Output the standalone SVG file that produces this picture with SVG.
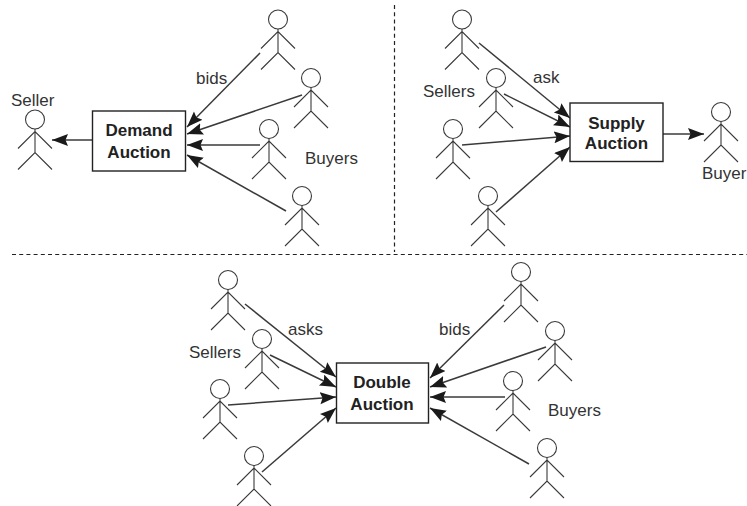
<svg xmlns="http://www.w3.org/2000/svg" xmlns:xlink="http://www.w3.org/1999/xlink" width="747" height="506" viewBox="0 0 747 506">
<style>
text{font-family:"Liberation Sans",Arial,sans-serif;font-size:17px;fill:#333}
.b{font-weight:bold;text-anchor:middle;fill:#222}
.box{fill:#fff;stroke:#222;stroke-width:1.4}
.fig{fill:none;stroke:#3a3a3a;stroke-width:1.1}
.c line{stroke:#3a3a3a;stroke-width:1.5;marker-end:url(#a)}
.d{stroke:#222;stroke-width:1.2;stroke-dasharray:4 3.2;fill:none}
</style>
<defs>
<marker id="a" markerUnits="userSpaceOnUse" markerWidth="18" markerHeight="14" refX="16" refY="6" orient="auto"><path d="M0 0L16 6L0 12L2.5 6Z" fill="#1a1a1a"/></marker>
<g id="p" class="fig"><circle cx="0" cy="0" r="9.5"/><path d="M0 9.5V33M-17 29L0 12L17 29M-17 50L0 33L17 50"/></g>
</defs>
<rect width="747" height="506" fill="#fff"/>
<g id="dividers"><path class="d" d="M394.5 5V252"/><path class="d" d="M12 254.5H747"/></g>
<g id="connectors" class="c">
<line x1="92" y1="140" x2="52" y2="140"/>
<line x1="260" y1="53" x2="187" y2="127"/>
<line x1="302" y1="95" x2="187" y2="134"/>
<line x1="260" y1="145" x2="187" y2="145"/>
<line x1="286" y1="211" x2="187" y2="155"/>
<line x1="479" y1="43" x2="570" y2="118"/>
<line x1="504" y1="94" x2="570" y2="127"/>
<line x1="462" y1="145" x2="570" y2="136"/>
<line x1="496" y1="212" x2="570" y2="147"/>
<line x1="663" y1="134" x2="704" y2="134"/>
<line x1="245" y1="304" x2="336" y2="377"/>
<line x1="270" y1="355" x2="336" y2="387"/>
<line x1="228" y1="405" x2="336" y2="397"/>
<line x1="262" y1="472" x2="336" y2="408"/>
<line x1="504" y1="305" x2="430" y2="378"/>
<line x1="546" y1="347" x2="430" y2="387"/>
<line x1="505" y1="397" x2="430" y2="397"/>
<line x1="529" y1="464" x2="430" y2="408"/>
</g>
<g id="demand-auction"><rect class="box" x="92.5" y="111" width="93" height="60"/><text class="b" x="139" y="136">Demand</text><text class="b" x="139" y="158">Auction</text></g>
<g id="supply-auction"><rect class="box" x="570" y="103" width="93" height="58.5"/><text class="b" x="616.5" y="129">Supply</text><text class="b" x="616.5" y="149">Auction</text></g>
<g id="double-auction"><rect class="box" x="336.5" y="363" width="92" height="60"/><text class="b" x="382" y="388">Double</text><text class="b" x="382" y="410">Auction</text></g>
<g id="seller"><use href="#p" x="35" y="119.5"/><text x="11" y="106">Seller</text></g>
<g id="buyer-d1"><use href="#p" x="278" y="19.5"/></g>
<g id="buyer-d2"><use href="#p" x="311" y="78"/></g>
<g id="buyer-d3"><use href="#p" x="269" y="129"/></g>
<g id="buyer-d4"><use href="#p" x="302" y="196"/></g>
<g id="seller-s1"><use href="#p" x="462" y="19.5"/></g>
<g id="seller-s2"><use href="#p" x="496" y="78"/></g>
<g id="seller-s3"><use href="#p" x="453" y="129"/></g>
<g id="seller-s4"><use href="#p" x="488" y="196"/></g>
<g id="buyer"><use href="#p" x="721" y="112"/><text x="702" y="179">Buyer</text></g>
<g id="seller-x1"><use href="#p" x="228" y="280"/></g>
<g id="seller-x2"><use href="#p" x="262" y="339"/></g>
<g id="seller-x3"><use href="#p" x="220" y="389"/></g>
<g id="seller-x4"><use href="#p" x="254" y="456"/></g>
<g id="buyer-x1"><use href="#p" x="521" y="272"/></g>
<g id="buyer-x2"><use href="#p" x="555" y="331"/></g>
<g id="buyer-x3"><use href="#p" x="513" y="381"/></g>
<g id="buyer-x4"><use href="#p" x="547" y="448"/></g>
<g id="labels">
<text x="196" y="84">bids</text>
<text x="305" y="164">Buyers</text>
<text x="423" y="97">Sellers</text>
<text x="533" y="83">ask</text>
<text x="189" y="358">Sellers</text>
<text x="288" y="335">asks</text>
<text x="439" y="335">bids</text>
<text x="548" y="416">Buyers</text>
</g>
</svg>
